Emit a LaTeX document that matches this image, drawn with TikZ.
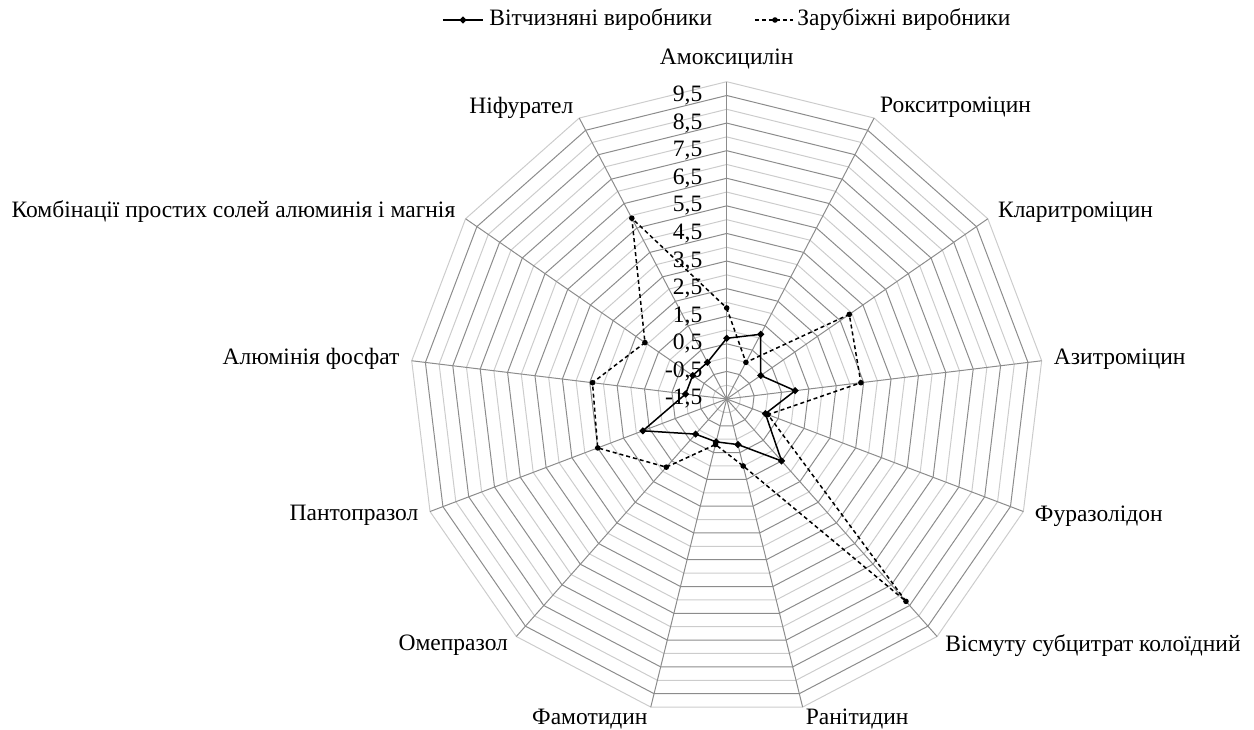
\documentclass[tikz,border=0pt]{standalone}
\usepackage{fontspec}
\setmainfont{Liberation Serif}
\usepackage{tikz}
\usetikzlibrary{shapes.geometric}

\begin{document}
\begin{tikzpicture}[x=0.5pt,y=0.5pt,
	spoke/.style={draw=black!45,line width=0.5pt},
	majorring/.style={draw=black!45,line width=0.5pt},
	minorring/.style={draw=black!20,line width=0.5pt},
	homeline/.style={black,line width=0.75pt},
	foreignline/.style={black,line width=0.75pt,dash pattern=on 2pt off 1.5pt},
	homemark/.style={diamond,fill=black,inner sep=0pt,minimum size=3.8pt},
	foreignmark/.style={circle,fill=black,inner sep=0pt,minimum size=2.8pt},
	txt/.style={font=\fontsize{11.75}{13}\selectfont,inner sep=0pt}]
	\useasboundingbox (-726.7,-330) rectangle (527.3,399);
	\coordinate (c) at (0,0);
	\foreach \i in {1,...,23}{
		\pgfmathsetmacro{\rr}{\i*317.3/23}
		\pgfmathparse{int(mod(\i,2))}
		\ifnum\pgfmathresult=0 \def\ringstyle{majorring}\else\def\ringstyle{minorring}\fi
		\draw[\ringstyle] (90:\rr) \foreach \k in {1,...,12}{-- ({90-\k*360/13}:\rr)} -- cycle;
	}
	\foreach \k in {0,...,12}{
		\coordinate (v\k) at ({90-\k*360/13}:317.3);
		\draw[spoke] (c) -- (v\k);
	}
	\foreach \k/\anc/\name in {0/south/Амоксицилін, 1/west/Рокситроміцин, 2/west/Кларитроміцин,
		3/west/Азитроміцин, 4/west/Фуразолідон, 5/west/Вісмуту субцитрат колоїдний,
		6/west/Ранітидин, 7/east/Фамотидин, 8/east/Омепразол, 9/east/Пантопразол,
		10/east/Алюмінія фосфат, 11/east/Комбінації простих солей алюминія і магнія, 12/east/Ніфурател}
		\node[txt,anchor=\anc] (lbl\k) at ({90-\k*360/13}:329.3) {\name};
	\foreach \v/\t in {-1.5/{-1,5},-0.5/{-0,5},0.5/{0,5},1.5/{1,5},2.5/{2,5},3.5/{3,5},
		4.5/{4,5},5.5/{5,5},6.5/{6,5},7.5/{7,5},8.5/{8,5},9.5/{9,5}}
		\node[txt,anchor=east] (tick\v) at (-24,{(\v+1.5)*27.59}) {\t};
	\foreach \k/\a/\b in {0/0.7/1.8, 1/1.15/0, 2/0/3.9, 3/1.0/3.4, 4/0/0.1, 5/1.5/8.3, 6/0.2/1.0,
		7/0.1/0.2, 8/0.2/1.8, 9/1.75/3.5, 10/0/3.4, 11/0/2.1, 12/0/5.9}{
		\coordinate (h\k) at ({90-\k*360/13}:{(\a+1.5)*27.59});
		\coordinate (f\k) at ({90-\k*360/13}:{(\b+1.5)*27.59});
	}
	\draw[homeline] (h0) \foreach \k in {1,...,12}{-- (h\k)} -- cycle;
	\foreach \k in {0,...,12} \node[homemark] (hm\k) at (h\k) {};
	\draw[foreignline] (f0) \foreach \k in {1,...,12}{-- (f\k)} -- cycle;
	\foreach \k in {0,...,12} \node[foreignmark] (fm\k) at (f\k) {};
	\coordinate (hl1) at (-283.7,379);
	\coordinate (hl2) at (-243.7,379);
	\draw[homeline] (hl1) -- (hl2);
	\node[homemark] (hlm) at (-263.7,379) {};
	\node[txt,anchor=west] (hleg) at (-237.7,379) {Вітчизняні виробники};
	\coordinate (fl1) at (28.3,379);
	\coordinate (fl2) at (66.3,379);
	\draw[foreignline] (fl1) -- (fl2);
	\node[foreignmark] (flm) at (48.3,379) {};
	\node[txt,anchor=west] (fleg) at (70.3,379) {Зарубіжні виробники};
\end{tikzpicture}
\end{document}
